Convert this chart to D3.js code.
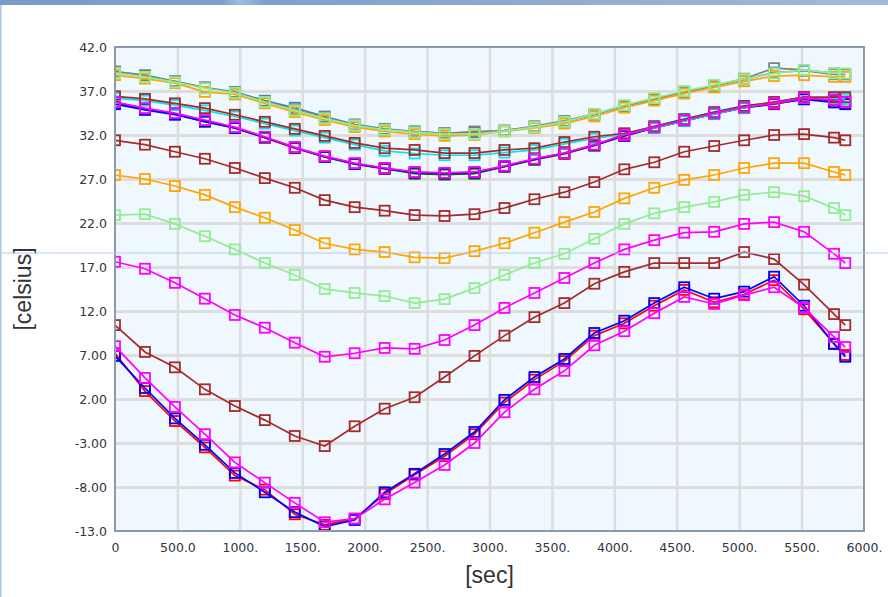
<!DOCTYPE html>
<html>
<head>
<meta charset="utf-8">
<script src="https://cdn.jsdelivr.net/npm/d3@7"></script>
<style>
  html, body { margin: 0; padding: 0; background: #ffffff; }
  svg { display: block; }
</style>
</head>
<body>
<svg id="chart" width="888" height="597"></svg>
<script>
// ---- data ----
const times = [0,240,480,720,960,1200,1440,1680,1920,2160,2400,2640,2880,3120,3360,3600,3840,4080,4320,4560,4800,5040,5280,5520,5760,5850];

const aSteel  = [39.2,38.8,38.1,37.4,36.9,35.9,35.1,34.1,33.2,32.7,32.4,32.2,32.3,32.5,32.9,33.5,34.3,35.3,36.1,36.9,37.6,38.3,39.1,39.3,38.9,38.9];
const aGray   = [39.2,38.7,38.1,37.4,36.8,35.8,34.9,34.0,33.1,32.6,32.4,32.2,32.4,32.5,33.0,33.6,34.4,35.3,36.1,36.9,37.6,38.4,39.6,39.4,39.0,38.9];
const aOrange = [38.8,38.4,37.9,36.9,36.6,35.6,34.6,33.7,32.9,32.4,32.1,31.9,32.0,32.4,32.8,33.3,34.1,35.1,35.9,36.7,37.4,38.1,38.7,38.8,38.6,38.6];
const aGreen  = [39.05,38.6,38.0,37.3,36.8,35.75,34.8,33.9,33.1,32.6,32.3,32.1,32.1,32.45,32.9,33.5,34.4,35.4,36.2,37.0,37.7,38.35,39.0,39.4,39.0,39.0];

const bRed     = [35.65,34.95,34.4,33.6,32.8,31.7,30.5,29.5,28.7,28.15,27.7,27.6,27.7,28.4,29.2,29.85,30.8,31.9,32.8,33.6,34.4,35.1,35.5,36.1,35.9,35.65];
const bDkGreen = [35.7,35.0,34.4,33.5,32.8,31.7,30.6,29.5,28.7,28.2,27.6,27.5,27.6,28.4,29.2,29.9,30.8,32.1,33.0,33.8,34.6,35.3,35.7,36.3,36.0,35.8];
const bBlue    = [35.5,34.85,34.3,33.55,32.8,31.75,30.55,29.55,28.75,28.2,27.75,27.65,27.75,28.45,29.25,29.95,30.85,31.9,32.8,33.6,34.4,35.1,35.55,36.05,35.7,35.5];
const bCyan    = [36.2,35.9,35.4,34.8,34.1,33.3,32.5,31.7,30.9,30.2,29.9,29.7,29.7,30.0,30.3,31.0,31.6,32.1,32.8,33.6,34.4,35.1,35.7,36.2,36.2,36.1];
const bBrown   = [36.4,36.1,35.6,35.05,34.3,33.5,32.7,31.9,31.1,30.5,30.3,29.95,29.95,30.3,30.5,31.2,31.8,32.2,32.9,33.7,34.5,35.2,35.75,36.3,36.3,36.3];
const bMagenta = [35.75,35.05,34.5,33.7,32.9,31.8,30.6,29.6,28.8,28.25,27.8,27.7,27.8,28.5,29.3,29.95,30.9,32.0,32.9,33.7,34.5,35.2,35.6,36.2,36.0,35.75];

const cBrown   = [31.4,30.9,30.1,29.3,28.25,27.1,26.0,24.6,23.8,23.4,22.9,22.8,23.0,23.7,24.7,25.5,26.65,28.1,28.9,30.1,30.75,31.4,32.0,32.1,31.7,31.4];
const dOrange  = [27.45,27.0,26.2,25.2,23.8,22.6,21.2,19.7,19.0,18.7,18.1,18.0,18.8,19.7,20.9,22.1,23.25,24.8,26.0,26.9,27.45,28.25,28.8,28.8,27.8,27.45];
const eGreen   = [22.9,23.0,21.9,20.5,19.0,17.45,16.1,14.5,14.05,13.7,12.9,13.35,14.6,16.1,17.45,18.5,20.2,21.9,23.1,23.8,24.4,25.2,25.5,25.05,23.7,22.9];
const fMagenta = [17.6,16.8,15.2,13.4,11.55,10.1,8.4,6.8,7.2,7.8,7.7,8.7,10.4,12.35,14.05,15.75,17.45,19.0,20.05,20.9,21.0,21.9,22.1,21.0,18.5,17.45];
const gBrown   = [10.4,7.35,5.6,3.1,1.2,-0.4,-2.2,-3.35,-1.1,0.9,2.2,4.5,6.9,9.2,11.3,12.9,15.1,16.45,17.45,17.45,17.45,18.7,17.9,15.0,11.65,10.4];
const hRed     = [7.2,2.9,-0.5,-3.5,-6.7,-8.3,-11.1,-12.3,-11.6,-8.8,-6.6,-4.5,-2.0,1.6,4.2,6.3,9.2,10.6,12.6,14.4,13.0,13.9,15.5,12.2,8.3,7.0];
const hBlue    = [6.9,3.25,-0.2,-3.2,-6.4,-8.6,-10.85,-12.5,-11.75,-8.6,-6.5,-4.25,-1.75,1.9,4.5,6.55,9.5,10.9,12.9,14.7,13.4,14.2,15.9,12.6,8.25,6.8];
const hMagenta = [8.0,4.4,1.1,-2.0,-5.2,-7.5,-9.8,-12.0,-11.6,-9.4,-7.5,-5.5,-3.0,0.5,3.1,5.2,8.1,9.7,11.75,13.6,12.8,13.8,14.7,12.35,9.05,7.9];

const seriesNames  = ["aSteel","aGray","aOrange","aGreen","bRed","bDkGreen","bBlue","bCyan","bBrown","bMagenta","cBrown","dOrange","eGreen","fMagenta","gBrown","hRed","hBlue","hMagenta"];
const seriesValues = [aSteel,aGray,aOrange,aGreen,bRed,bDkGreen,bBlue,bCyan,bBrown,bMagenta,cBrown,dOrange,eGreen,fMagenta,gBrown,hRed,hBlue,hMagenta];
const seriesColors = ["#4682b4","#808080","#ffa500","#90ee90","#ff0000","#006400","#0000ff","#00e5ee","#a52a2a","#ff00ff","#a52a2a","#ffa500","#90ee90","#ff00ff","#a52a2a","#ff0000","#0000ff","#ff00ff"];

const yTicks = [42,37,32,27,22,17,12,7,2,-3,-8,-13];
const yTickLabels = ["42.0","37.0","32.0","27.0","22.0","17.0","12.0","7.00","2.00","-3.00","-8.00","-13.0"];
const xTicks = [0,500,1000,1500,2000,2500,3000,3500,4000,4500,5000,5500,6000];
const xTickLabels = ["0","500.0","1000.","1500.","2000.","2500.","3000.","3500.","4000.","4500.","5000.","5500.","6000."];
const xTitle = "[sec]";
const yTitle = "[celsius]";

// ---- layout ----
const W = 888, H = 597;
const m = {left: 115, top: 47, right: 864, bottom: 531};
const pw = m.right - m.left, ph = m.bottom - m.top;

const svg = d3.select("#chart");

// page decorations (banner bar, left edge)
const defs = svg.append("defs");
const grad = defs.append("linearGradient").attr("id","bar").attr("x1","0").attr("x2","1");
grad.append("stop").attr("offset","0").attr("stop-color","#7b9bc7");
grad.append("stop").attr("offset","0.25").attr("stop-color","#7fa0cb");
grad.append("stop").attr("offset","0.27").attr("stop-color","#9fbbe0");
grad.append("stop").attr("offset","0.3").attr("stop-color","#7fa0ca");
grad.append("stop").attr("offset","1").attr("stop-color","#a6b8d8");
svg.append("rect").attr("x",0).attr("y",0).attr("width",W).attr("height",5).attr("fill","url(#bar)");
svg.append("rect").attr("x",0).attr("y",5).attr("width",1.5).attr("height",H-5).attr("fill","#a9c6e6");

defs.append("clipPath").attr("id","plotclip")
  .append("rect").attr("x",m.left).attr("y",m.top).attr("width",pw).attr("height",ph);

const x = d3.scaleLinear().domain([0,6000]).range([m.left, m.right]);
const y = d3.scaleLinear().domain([-13,42]).range([m.bottom, m.top]);

// plot background
svg.append("rect").attr("x",m.left).attr("y",m.top).attr("width",pw).attr("height",ph).attr("fill","#f0f8ff");

// grid
const gx = svg.append("g").attr("transform",`translate(0,${m.bottom})`)
  .call(d3.axisBottom(x).tickValues(xTicks.slice(1,-1)).tickSize(-ph).tickFormat(""));
gx.select(".domain").remove();
gx.selectAll("line").attr("stroke","#dddddd").attr("stroke-width",2.5);

const gy = svg.append("g").attr("transform",`translate(${m.left},0)`)
  .call(d3.axisLeft(y).tickValues(yTicks.slice(1,-1)).tickSize(-pw).tickFormat(""));
gy.select(".domain").remove();
gy.selectAll("line").attr("stroke","#dddddd").attr("stroke-width",3);

// series
const line = d3.line().x((d,i)=>x(times[i])).y(d=>y(d));
const plot = svg.append("g").attr("clip-path","url(#plotclip)");
const ms = 10;
seriesValues.forEach((vals, si) => {
  const g = plot.append("g").attr("class","series "+seriesNames[si]);
  g.append("path").attr("d", line(vals)).attr("fill","none")
    .attr("stroke", seriesColors[si]).attr("stroke-width",1.7);
  g.selectAll("rect").data(vals).enter().append("rect")
    .attr("x",(d,i)=>x(times[i]) - ms/2)
    .attr("y",d=>y(d) - ms/2)
    .attr("width",ms).attr("height",ms)
    .attr("fill","none").attr("stroke",seriesColors[si]).attr("stroke-width",1.8);
});

// frame
svg.append("rect").attr("x",m.left).attr("y",m.top).attr("width",pw).attr("height",ph)
  .attr("fill","none").attr("stroke","#8a99ab").attr("stroke-width",2);

// tick labels
const textColor = "#2f3644";
const ax = svg.append("g").attr("transform",`translate(0,${m.bottom})`)
  .call(d3.axisBottom(x).tickValues(xTicks).tickSize(0).tickPadding(12)
        .tickFormat((d,i)=>xTickLabels[i]));
ax.select(".domain").remove();
ax.selectAll("text").attr("font-family","DejaVu Sans").attr("font-size","12.5px").attr("fill",textColor);

const ay = svg.append("g").attr("transform",`translate(${m.left},0)`)
  .call(d3.axisLeft(y).tickValues(yTicks).tickSize(0).tickPadding(8)
        .tickFormat((d,i)=>yTickLabels[i]));
ay.select(".domain").remove();
ay.selectAll("text").attr("font-family","DejaVu Sans").attr("font-size","12.5px").attr("fill",textColor);

// axis titles
svg.append("text").attr("x",(m.left+m.right)/2).attr("y",583)
  .attr("text-anchor","middle").attr("font-family","Liberation Sans, Arial, sans-serif")
  .attr("font-size","23px").attr("fill","#333").text(xTitle);
svg.append("text").attr("transform",`translate(31,${(m.top+m.bottom)/2}) rotate(-90)`)
  .attr("text-anchor","middle").attr("font-family","Liberation Sans, Arial, sans-serif")
  .attr("font-size","23px").attr("fill","#333").text(yTitle);

// thin horizontal page rule crossing the picture
svg.append("rect").attr("x",0).attr("y",252.5).attr("width",W).attr("height",1).attr("fill","#b3cde8");
</script>
</body>
</html>
